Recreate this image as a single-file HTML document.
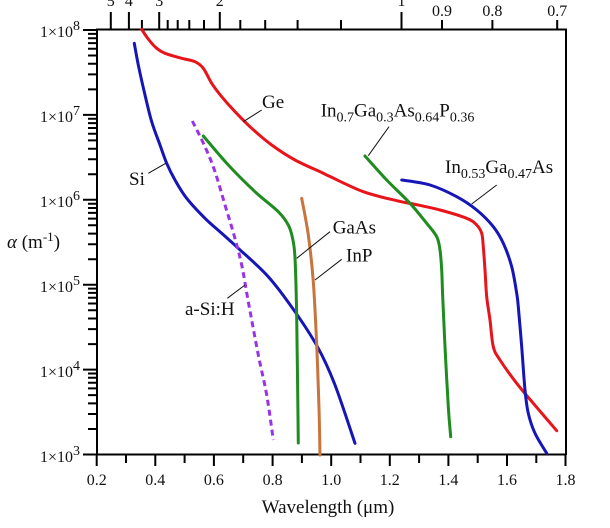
<!DOCTYPE html>
<html><head><meta charset="utf-8"><style>
html,body{margin:0;padding:0;background:#fff;}
svg{display:block;}
text{font-family:"Liberation Serif","DejaVu Serif",serif;fill:#111;}
</style></head><body>
<svg id="s" width="610" height="528" viewBox="0 0 610 528" xmlns="http://www.w3.org/2000/svg">
<g stroke="#000" stroke-width="2" fill="none">
<polyline points="97,455 97,29.5 566,29.5 566,455"/>
<line x1="96" y1="454.5" x2="566" y2="454.5"/>
<path d="M96.7,454 v12 M126,454 v9 M155.3,454 v12 M184.6,454 v9 M213.9,454 v12 M243.2,454 v9 M272.6,454 v12 M301.9,454 v9 M331.2,454 v12 M360.5,454 v9 M389.8,454 v12 M419.1,454 v9 M448.4,454 v12 M477.7,454 v9 M507,454 v12 M536.3,454 v9 M565.5,454 v12"/>
<path d="M110.8,29 V12 M128.9,29 V12 M159.2,29 V12 M219.8,29 V12 M401.5,29 V12 M442,29 V20 M492.4,29 V20 M557.2,29 V20 M141.9,29 V20 M167.7,29 V20 M177.7,29 V20 M189.3,29 V20 M204,29 V20 M240.3,29 V20 M265.2,29 V20 M297.6,29 V20 M341,29 V20"/>
<path d="M83,30 H97 M83,114.9 H97 M83,199.8 H97 M83,284.7 H97 M83,369.6 H97 M83,454.5 H97"/>
<path d="M88,89.4H97M88,74.4H97M88,63.8H97M88,55.5H97M88,48.8H97M88,43.1H97M88,38.2H97M88,33.9H97"/>
<path d="M88,174.3H97M88,159.3H97M88,148.7H97M88,140.4H97M88,133.7H97M88,128H97M88,123.1H97M88,118.8H97"/>
<path d="M88,259.2H97M88,244.2H97M88,233.6H97M88,225.3H97M88,218.6H97M88,212.9H97M88,208H97M88,203.7H97"/>
<path d="M88,344.1H97M88,329.1H97M88,318.5H97M88,310.2H97M88,303.5H97M88,297.8H97M88,292.9H97M88,288.6H97"/>
<path d="M88,429H97M88,414H97M88,403.4H97M88,395.1H97M88,388.4H97M88,382.7H97M88,377.8H97M88,373.5H97"/>
</g>
<g font-size="16" text-anchor="end">
<text x="80" y="37">1×10<tspan font-size="14" dy="-7">8</tspan></text>
<text x="80" y="122">1×10<tspan font-size="14" dy="-7">7</tspan></text>
<text x="80" y="207">1×10<tspan font-size="14" dy="-7">6</tspan></text>
<text x="80" y="292">1×10<tspan font-size="14" dy="-7">5</tspan></text>
<text x="80" y="377">1×10<tspan font-size="14" dy="-7">4</tspan></text>
<text x="80" y="462">1×10<tspan font-size="14" dy="-7">3</tspan></text>
</g>
<g font-size="16" text-anchor="middle">
<text x="96.7" y="485">0.2</text>
<text x="155.3" y="485">0.4</text>
<text x="213.9" y="485">0.6</text>
<text x="272.6" y="485">0.8</text>
<text x="331.2" y="485">1.0</text>
<text x="389.8" y="485">1.2</text>
<text x="448.4" y="485">1.4</text>
<text x="507" y="485">1.6</text>
<text x="565.5" y="485">1.8</text>
</g>
<g font-size="16" text-anchor="middle">
<text x="110.8" y="6">5</text>
<text x="128.9" y="6">4</text>
<text x="159.2" y="6">3</text>
<text x="219.8" y="6">2</text>
<text x="401.5" y="6">1</text>
<text x="442" y="16">0.9</text>
<text x="492.4" y="16">0.8</text>
<text x="557.2" y="16">0.7</text>
</g>
<text x="328" y="513" font-size="19" text-anchor="middle">Wavelength (μm)</text>
<text x="7" y="248" font-size="19"><tspan font-style="italic">α</tspan> (m<tspan font-size="13" dy="-7">-1</tspan><tspan dy="7">)</tspan></text>

<g id="curves" fill="none" stroke-width="3" stroke-linejoin="round" stroke-linecap="round">
<polyline stroke="#e8141c" points="141.7,29.5 149,40 156.7,48.3 165,53.3 181.7,58.3 195,61.7 203.3,68.3 211.7,83.3 221.7,96.7 235,111.7 251.7,128.3 271.7,145 295,160 321.7,172.5 330,176.5 363.3,191.7 396.7,200.7 413.3,204 440,210 466.7,218.3 476.7,225 481.7,233.3 483.3,246.7 485,270 486.7,296.7 490,320 493.3,346.7 500,360 516.7,383.3 533.3,403.3 556.7,430.7"/>
<polyline stroke="#1616b8" points="134.3,43.3 138.3,65 145,95 151.7,121.7 160,145 166.7,163.3 175,180 186.7,198.3 205,218.3 221.7,233.3 238.3,248.3 268.3,276.7 295,311.7 318.3,348.3 335,385 355,443.3"/>
<polyline stroke="#9a33e6" stroke-dasharray="6,4" stroke-linecap="butt" points="192.3,121 205,146.7 215,171.7 225,205 234,235 241.7,265 248.3,301.7 258.3,355 266.7,395 273.3,440"/>
<polyline stroke="#1e8c1e" points="203.3,136 228.3,165 255,191.7 278.3,211.7 288.3,225 292.5,238 295,258 296.7,318 298.3,443"/>
<polyline stroke="#c8743c" points="301.7,198.3 308.3,235 313.3,281.7 316.7,345 319,408 320,455"/>
<polyline stroke="#1e8c1e" points="365,156 386.7,180 410,203.3 426.7,223.3 436.7,236.7 440,250 441.7,270 442.7,296.7 445,346.7 448.3,406.7 450.7,436.7"/>
<polyline stroke="#1616b8" points="401.7,180 430,185 456.7,196.7 476.7,210 493.3,226.7 503.3,243.3 511.7,266.7 516.7,293.3 518.3,306.7 521.7,346.7 525,390 528.3,413.3 535,433.3 546.7,453.3"/>
</g>

<g stroke="#111" stroke-width="1" fill="none">
<line x1="148.3" y1="173.3" x2="165.7" y2="163.3"/>
<line x1="261.7" y1="110" x2="243.3" y2="121.7"/>
<line x1="389" y1="126.7" x2="368.3" y2="155.7"/>
<line x1="496.7" y1="185" x2="471.7" y2="204"/>
<line x1="330" y1="231.7" x2="296.7" y2="258.3"/>
<line x1="341.7" y1="259.3" x2="315" y2="280"/>
<line x1="227.3" y1="298.3" x2="245" y2="285"/>
</g>

<g font-size="19">
<text x="129" y="185">Si</text>
<text x="262" y="108">Ge</text>
<text x="332.7" y="233.3">GaAs</text>
<text x="346" y="261.7">InP</text>
<text x="185" y="315">a-Si:H</text>
<text x="320.7" y="116.7">In<tspan font-size="14" dy="5">0.7</tspan><tspan dy="-5">Ga</tspan><tspan font-size="14" dy="5">0.3</tspan><tspan dy="-5">As</tspan><tspan font-size="14" dy="5">0.64</tspan><tspan dy="-5">P</tspan><tspan font-size="14" dy="5">0.36</tspan></text>
<text x="445" y="173">In<tspan font-size="14" dy="5">0.53</tspan><tspan dy="-5">Ga</tspan><tspan font-size="14" dy="5">0.47</tspan><tspan dy="-5">As</tspan></text>
</g>
</svg>
<script>
(function(){
var pls=document.querySelectorAll('#curves polyline');
for(var k=0;k<pls.length;k++){
var pl=pls[k];
var pts=pl.getAttribute('points').trim().split(/\s+/).map(function(p){var a=p.split(',');return [parseFloat(a[0]),parseFloat(a[1])];});
var d='M'+pts[0][0]+','+pts[0][1];
for(var i=0;i<pts.length-1;i++){
var p0=pts[i>0?i-1:i],p1=pts[i],p2=pts[i+1],p3=pts[i+2<pts.length?i+2:i+1];
var c1x=p1[0]+(p2[0]-p0[0])/6,c1y=p1[1]+(p2[1]-p0[1])/6;
var c2x=p2[0]-(p3[0]-p1[0])/6,c2y=p2[1]-(p3[1]-p1[1])/6;
d+=' C'+c1x.toFixed(2)+','+c1y.toFixed(2)+' '+c2x.toFixed(2)+','+c2y.toFixed(2)+' '+p2[0]+','+p2[1];
}
var path=document.createElementNS('http://www.w3.org/2000/svg','path');
path.setAttribute('d',d);
for(var j=0;j<pl.attributes.length;j++){var at=pl.attributes[j];if(at.name!=='points')path.setAttribute(at.name,at.value);}
pl.parentNode.replaceChild(path,pl);
}
})();
</script>
</body></html>
